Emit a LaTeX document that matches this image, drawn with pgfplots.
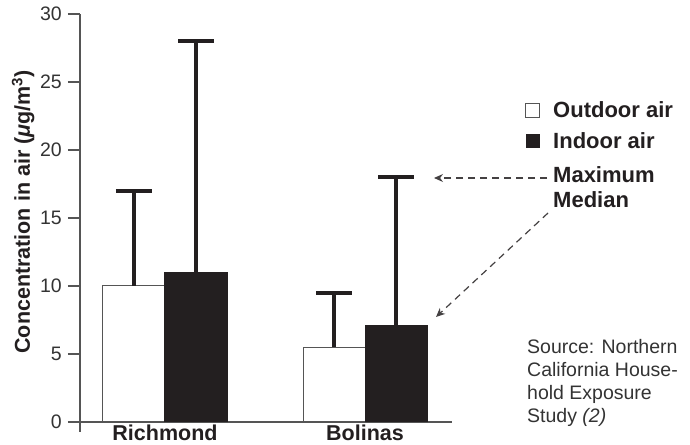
\documentclass[border=0pt]{standalone}
\usepackage{fontspec}
\setmainfont{Liberation Sans}
\usepackage{pgfplots}
\pgfplotsset{compat=1.18}
\usetikzlibrary{arrows.meta}
\definecolor{ink}{HTML}{231F20}
\definecolor{txt}{HTML}{333333}
\definecolor{axl}{HTML}{555555}
\begin{document}
\begin{tikzpicture}
\path[use as bounding box] (-80pt,-22pt) rectangle (610pt,422pt);
\begin{axis}[
  at={(0pt,0pt)}, anchor=south west, scale only axis,
  width=372pt, height=408pt,
  xmin=-0.425, xmax=1.435, ymin=0, ymax=30,
  axis x line*=bottom, axis y line*=left,
  axis line style={axl, line width=1.2pt, -},
  ytick={0,5,10,15,20,25,30},
  xtick={0,1}, xticklabels={Richmond,Bolinas},
  major x tick style={draw=none},
  major tick style={axl, line width=1.2pt},
  major tick length=12pt, tick align=outside,
  /pgf/number format/assume math mode=true,
  yticklabel style={font=\fontsize{19.5}{20}\selectfont, text=txt, inner sep=0pt, xshift=-6pt},
  xticklabel style={font=\bfseries\fontsize{21.5}{24}\selectfont, text=ink, inner sep=0pt, yshift=9pt},
  ylabel={Concentration in air (\textit{μ}g/m\textsuperscript{3})},
  ylabel style={at={(axis description cs:-0.153,0.515)}, anchor=center, font=\bfseries\fontsize{21.5}{24}\selectfont, text=ink},
  ybar=0pt, bar width=62pt,
  clip=false,
]
\addplot[draw=axl, fill=white, line width=1pt,
  error bars/.cd, y dir=plus, y explicit, error mark=|,
  error bar style={line width=3.5pt, ink},
  error mark options={line width=3.5pt, mark size=18pt, ink}]
  coordinates {(0,10) +- (0,7) (1,5.5) +- (0,4)};
\addplot[draw=ink, fill=ink, line width=1pt,
  error bars/.cd, y dir=plus, y explicit, error mark=|,
  error bar style={line width=3.5pt, ink},
  error mark options={line width=3.5pt, mark size=18pt, ink}]
  coordinates {(0,11) +- (0,17) (1,7.1) +- (0,10.9)};
\draw[axl, line width=1.2pt] (rel axis cs:0,0) -- ([yshift=-10pt]rel axis cs:0,0);
\end{axis}
% legend
\draw[axl, line width=1pt, fill=white] (445.5pt,304pt) rectangle ++(14pt,14pt);
\fill[ink] (445.5pt,274pt) rectangle ++(14pt,14pt);
\begin{scope}[every node/.style={anchor=west, inner sep=0pt, font=\bfseries\fontsize{22}{24}\selectfont, text=ink}]
\node at (473pt,312pt) {Outdoor air};
\node at (473pt,281pt) {Indoor air};
\node at (473pt,247pt) {Maximum};
\node at (473pt,222pt) {Median};
\end{scope}
\draw[ink!85, line width=1.2pt, dash pattern=on 7pt off 5pt, -{Stealth[length=9pt,width=8pt]}] (467pt,244pt) -- (354pt,244pt);
\draw[ink!85, line width=1.2pt, dash pattern=on 7pt off 5pt, -{Stealth[length=9pt,width=8pt]}] (468pt,209pt) -- (356pt,105pt);
\begin{scope}[every node/.style={anchor=base west, inner sep=0pt, font=\fontsize{19.5}{22}\selectfont, text=txt}]
\node at (447pt,68pt) {Source: Northern};
\node at (447pt,45pt) {California House-};
\node at (447pt,22pt) {hold Exposure};
\node at (447pt,-1pt) {Study \textit{(2)}};
\end{scope}
\end{tikzpicture}
\end{document}
